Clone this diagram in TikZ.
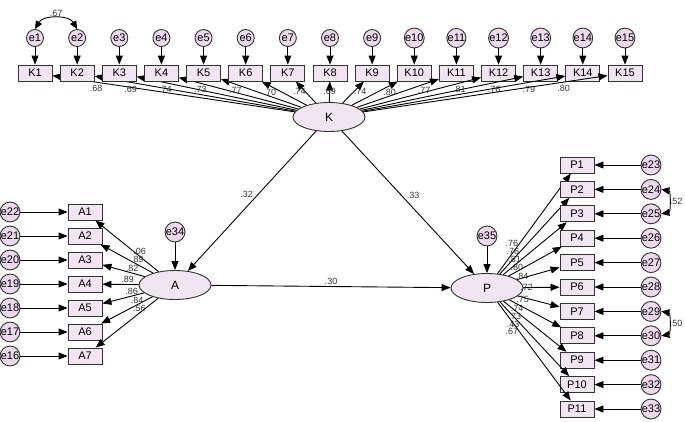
\documentclass[tikz,border=0pt]{standalone}
\usepackage{fontspec}
\setmainfont{Liberation Sans}
\usetikzlibrary{arrows.meta,shapes.geometric}
\tikzstyle{obs} = [rectangle, draw=black!80, fill=violet!10, minimum width=34pt, minimum height=16pt, inner sep=0pt, line width=0.9pt, font=\fontsize{11}{11}\selectfont]
\tikzstyle{lat} = [ellipse, draw=black!80, fill=violet!10, minimum width=72pt, minimum height=29pt, line width=0.9pt, font=\fontsize{12}{12}\selectfont]
\tikzstyle{err} = [circle, draw=black!80, fill=violet!15, minimum size=17pt, inner sep=0pt, line width=0.9pt, font=\fontsize{11}{11}\selectfont]
\tikzstyle{arrow} = [line width=0.9pt, -{Triangle[length=9pt,width=7pt]}]
\tikzstyle{cov} = [line width=0.9pt, {Triangle[length=8pt,width=7pt]}-{Triangle[length=8pt,width=7pt]}]
\tikzstyle{coef} = [font=\fontsize{9}{9}\selectfont, text=black!80, inner sep=1pt]

\begin{document}
\begin{tikzpicture}[x=1pt, y=-1pt]
    \useasboundingbox (0,0) rectangle (685,421);
    % latent variables
    \node (K) [lat] at (329,117) {K};
    \node (A) [lat] at (175,285) {A};
    \node (P) [lat] at (487,288) {P};
    \node (e34) [err] at (175,232) {e34};
    \node (e35) [err] at (487,236) {e35};
    \draw [arrow] (e34) -- (A);
    \draw [arrow] (e35) -- (P);

    % K indicators
    \foreach \i/\l in {1/.68,2/.69,3/.74,4/.73,5/.77,6/.70,7/.74,8/.69,9/.74,10/.80,11/.77,12/.81,13/.76,14/.79,15/.80} {
        \node (K\i) [obs] at ({35+42.14*(\i-1)},73) {K\i};
        \node (e\i) [err] at ({35+42.14*(\i-1)},38) {e\i};
        \draw [arrow] (e\i) -- (K\i);
        \draw [arrow] (K) -- node[coef, pos=0.82, below, yshift=-2pt] {\l} (K\i);
    }
    \draw [cov] (e1.north) to[out=60, in=120] node[coef, above] {.67} (e2.north);

    % A indicators
    \foreach \i/\e/\l in {1/22/.06,2/21/.89,3/20/.82,4/19/.89,5/18/.86,6/17/.84,7/16/.56} {
        \node (A\i) [obs] at (85,{212+24*(\i-1)}) {A\i};
        \node (e\e) [err] at (10,{212+24*(\i-1)}) {e\e};
        \draw [arrow] (e\e) -- (A\i);
        \draw [arrow] (A) -- node[coef, pos=0.3, above] {\l} (A\i);
    }

    % P indicators
    \foreach \i/\l in {1/.76,2/.76,3/.81,4/.80,5/.84,6/.72,7/.75,8/.74,9/.73,10/.43,11/.67} {
        \pgfmathtruncatemacro{\e}{22+\i}
        \node (P\i) [obs] at (577,{165+24.4*(\i-1)}) {P\i};
        \node (e\e) [err] at (651,{165+24.4*(\i-1)}) {e\e};
        \draw [arrow] (e\e) -- (P\i);
        \draw [arrow] (P) -- node[coef, pos=0.3, left] {\l} (P\i);
    }
    \draw [cov] (e24.east) to[out=-10, in=10] node[coef, right] {.52} (e25.east);
    \draw [cov] (e29.east) to[out=-10, in=10] node[coef, right] {.50} (e30.east);

    % structural paths
    \draw [arrow] (K) -- node[coef, pos=0.45, left=4pt] {.32} (A);
    \draw [arrow] (K) -- node[coef, pos=0.45, right=4pt] {.33} (P);
    \draw [arrow] (A) -- node[coef, above] {.30} (P);
\end{tikzpicture}
\end{document}
